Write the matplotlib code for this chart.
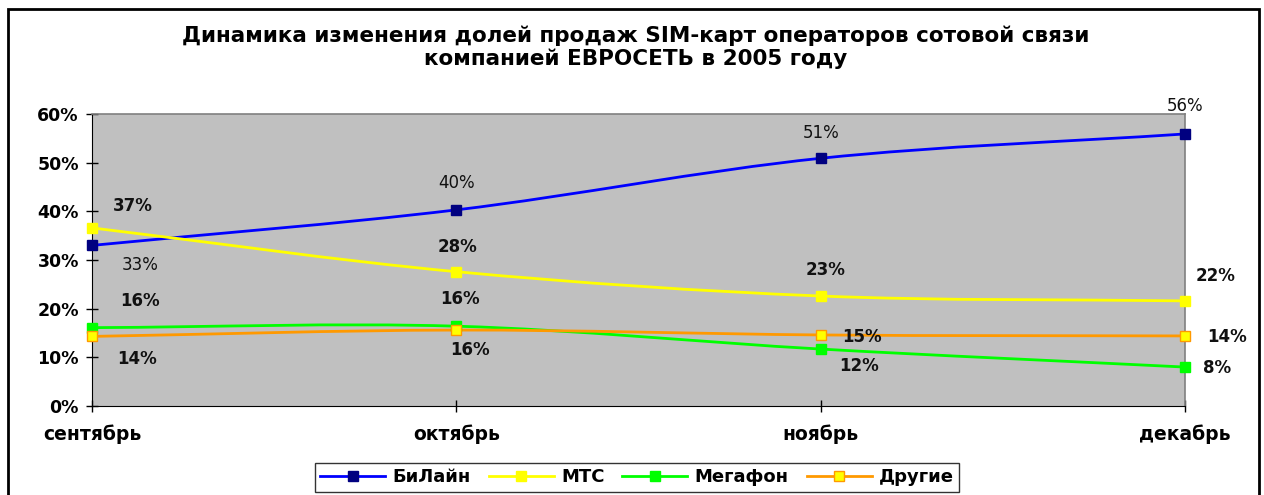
import matplotlib.pyplot as plt
from matplotlib.path import Path
from matplotlib.patches import PathPatch, Rectangle
from matplotlib.lines import Line2D
from matplotlib.ticker import PercentFormatter

months = ['сентябрь', 'октябрь', 'ноябрь', 'декабрь']
beeline = [0.330, 0.403, 0.509, 0.559]
mts = [0.366, 0.276, 0.226, 0.216]
megafon = [0.161, 0.164, 0.117, 0.080]
other = [0.143, 0.156, 0.146, 0.144]

title = 'Динамика изменения долей продаж SIM-карт операторов сотовой связи\nкомпанией ЕВРОСЕТЬ в 2005 году'

plt.rcParams['font.family'] = ['DejaVu Sans']


def smooth(ax, xs, ys, color):
    # excel-like smoothed line: cubic bezier through the points
    n = len(xs)
    pts = list(zip(xs, ys))
    tang = []
    for i in range(n):
        a = pts[max(i - 1, 0)]
        b = pts[min(i + 1, n - 1)]
        k = 0.5 if 0 < i < n - 1 else 1.0
        tang.append(((b[0] - a[0]) * k, (b[1] - a[1]) * k))
    verts = [pts[0]]
    codes = [Path.MOVETO]
    for i in range(n - 1):
        p0, p1 = pts[i], pts[i + 1]
        c1 = (p0[0] + tang[i][0] / 3, p0[1] + tang[i][1] / 3)
        c2 = (p1[0] - tang[i + 1][0] / 3, p1[1] - tang[i + 1][1] / 3)
        verts += [c1, c2, p1]
        codes += [Path.CURVE4] * 3
    ax.add_patch(PathPatch(Path(verts, codes), fill=False, edgecolor=color, lw=2, zorder=3))


fig = plt.figure(figsize=(12.64, 4.95), dpi=100)
ax = fig.add_axes([0.0728, 0.1798, 0.8647, 0.5899])
ax.set_facecolor('#C0C0C0')

x = list(range(len(months)))
series = [
    ('БиЛайн', beeline, '#0000FF', '#000080', '#000080'),
    ('МТС', mts, '#FFFF00', '#FFFF00', '#FFFF00'),
    ('Мегафон', megafon, '#00FF00', '#00FF00', '#00FF00'),
    ('Другие', other, '#FF9900', '#FFFF00', '#FF9900'),
]
handles = []
for name, vals, lc, mfc, mec in series:
    smooth(ax, x, vals, lc)
    ax.plot(x, vals, ls='none', marker='s', ms=7, mfc=mfc, mec=mec, mew=1, zorder=4, clip_on=False)
    handles.append(Line2D([], [], color=lc, lw=2, marker='s', ms=7, mfc=mfc, mec=mec, label=name))

# data labels (offsets in pixels)
off_beeline = [(48, -20), (0, 27), (0, 25), (0, 28)]
off_mts = [(41, 22), (1, 25), (5, 26), (31, 25)]
off_megafon = [(48, 27), (4, 27), (38, -17), (32, -1)]
off_other = [(45, -23), (14, -20), (41, -2), (42, -1)]
for vals, offs, wt in [(beeline, off_beeline, 'normal'), (mts, off_mts, 'bold'),
                       (megafon, off_megafon, 'bold'), (other, off_other, 'bold')]:
    for i, v in enumerate(vals):
        ax.annotate(f'{round(v * 100)}%', (x[i], v), xytext=offs[i], textcoords='offset pixels',
                    ha='center', va='center', fontsize=12, fontweight=wt, color='#111111',
                    zorder=5, annotation_clip=False)

ax.set_xlim(0, 3)
ax.set_ylim(0, 0.6)
ax.set_yticks([0, 0.1, 0.2, 0.3, 0.4, 0.5, 0.6])
ax.yaxis.set_major_formatter(PercentFormatter(1.0, decimals=0))
ax.set_xticks(x, months)
for lab in ax.get_yticklabels():
    lab.set_fontweight('bold')
    lab.set_fontsize(12.5)
for lab in ax.get_xticklabels():
    lab.set_fontweight('bold')
    lab.set_fontsize(13.5)
ax.tick_params(axis='y', direction='inout', length=9, width=1, pad=5)
ax.tick_params(axis='x', direction='inout', length=9, width=1, pad=9)
ax.spines['left'].set_color('black')
ax.spines['bottom'].set_color('black')
ax.spines['top'].set_color('#808080')
ax.spines['right'].set_color('#808080')
ax.spines['top'].set_linewidth(1.2)
ax.spines['right'].set_linewidth(1.2)

fig.text(0.503, 0.904, title, ha='center', va='center', fontsize=15.5, fontweight='bold',
         linespacing=1.15)

leg = fig.legend(handles=handles, loc='center', bbox_to_anchor=(0.504, 0.036), ncol=4,
                 frameon=True, fancybox=False, edgecolor='black', handlelength=3.6,
                 handletextpad=0.4, columnspacing=1.0, borderpad=0.3,
                 prop={'weight': 'bold', 'size': 13})
leg.get_frame().set_linewidth(1)

# chart border
fig.patches.append(Rectangle((8 / 1264, -0.05), 1251 / 1264, 1 - 9 / 495 + 0.05,
                             transform=fig.transFigure, fill=False, edgecolor='black', lw=2))

plt.savefig('out.png', dpi=100)
